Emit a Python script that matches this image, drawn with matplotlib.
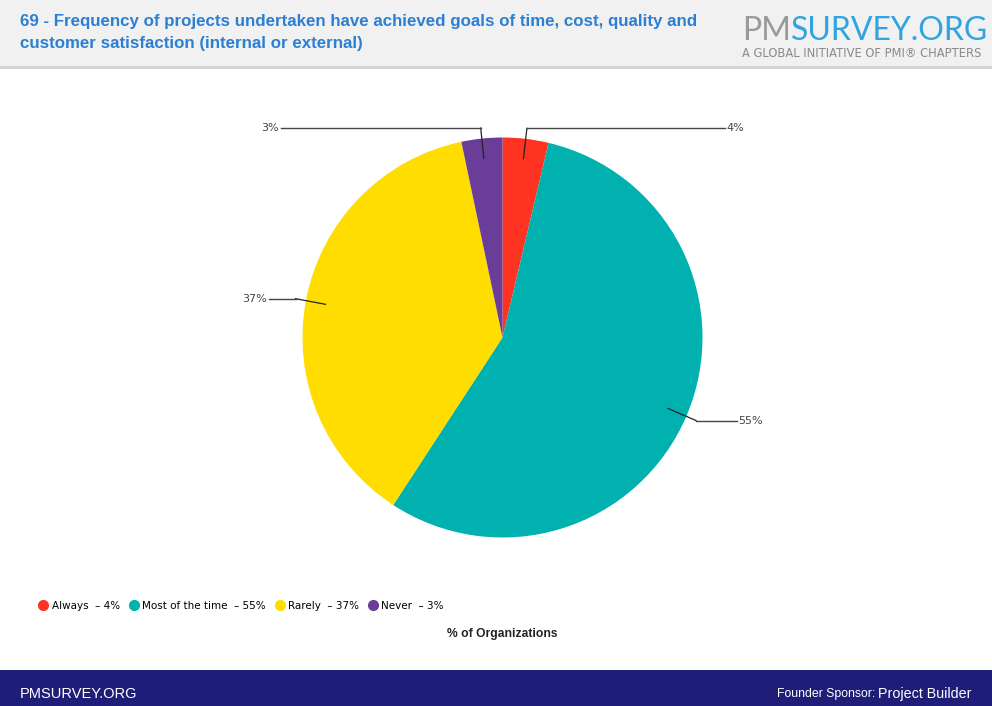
import numpy as np
import matplotlib.pyplot as plt
from matplotlib.patches import Rectangle
from matplotlib.lines import Line2D

categories = ['Always', 'Most of the time', 'Rarely', 'Never']
values = [3.7, 55.5, 37.5, 3.3]
labels = ['4%', '55%', '37%', '3%']
colors = ['#FF3322', '#00B1B0', '#FFDD00', '#6A3D99']

W, H = 992, 706
fig = plt.figure(figsize=(W / 100, H / 100), dpi=100)
fig.patch.set_facecolor('white')

# header band and footer band
fig.add_artist(Rectangle((0, 1 - 66 / H), 1, 66 / H, transform=fig.transFigure,
                         facecolor='#F1F1F1', edgecolor='none', zorder=0))
fig.add_artist(Rectangle((0, 1 - 69 / H), 1, 3 / H, transform=fig.transFigure,
                         facecolor='#D4D4D4', edgecolor='none', zorder=0))
fig.add_artist(Rectangle((0, 0), 1, 36 / H, transform=fig.transFigure,
                         facecolor='#1E1E78', edgecolor='none', zorder=0))

title = ('69 - Frequency of projects undertaken have achieved goals of time, cost, quality and\n'
         'customer satisfaction (internal or external)')
fig.text(20 / W, 1 - 14 / H, title, ha='left', va='top', fontsize=12.2,
         fontweight='bold', color='#2B7FD4', family='Liberation Sans',
         linespacing=1.6)

# logo text
pm = fig.text(742 / W, 1 - 40 / H, 'PM', ha='left', va='baseline', fontsize=23,
              color='#9A9A9A', family='Lato')
fig.canvas.draw()
pm_w = pm.get_window_extent().width
fig.text(742 / W + pm_w / W, 1 - 40 / H, 'SURVEY.ORG', ha='left', va='baseline',
         fontsize=23, color='#2FA4E0', family='Lato')
fig.text(742 / W, 1 - 57 / H, 'A GLOBAL INITIATIVE OF PMI\u00ae CHAPTERS', ha='left',
         va='baseline', fontsize=8.3, color='#8A8A8A', family='DejaVu Sans')

# pie
ax = fig.add_axes([302.5 / W, (H - 537.5) / H, 400 / W, 400 / H])
wedges, _ = ax.pie(values, colors=colors, startangle=90, counterclock=False,
                   radius=1, wedgeprops=dict(linewidth=0))
ax.set_xlim(-1, 1)
ax.set_ylim(-1, 1)
ax.set_aspect('equal')
ax.axis('off')

for w, lab in zip(wedges, labels):
    mid = np.deg2rad((w.theta1 + w.theta2) / 2)
    x0, y0 = 0.9 * np.cos(mid), 0.9 * np.sin(mid)
    x1, y1 = 1.053 * np.cos(mid), 1.053 * np.sin(mid)
    side = 1 if x1 > 0 else -1
    x2 = side * (1.17 if abs(y1) < 0.6 else 1.11)
    ax.plot([x0, x1], [y0, y1], color='#222222', lw=0.9, clip_on=False)
    ax.plot([x1, x2], [y1, y1], color='#444444', lw=1.0, clip_on=False)
    ax.text(x2 + side * 0.01, y1, lab, ha='left' if side > 0 else 'right',
            va='center', fontsize=8, color='#444444', family='DejaVu Sans')

# legend
handles = [Line2D([], [], marker='o', linestyle='none', markersize=7,
                  markerfacecolor=c, markeredgecolor=c) for c in colors]
leg_labels = [f'{c}  \u2013 {l}' for c, l in zip(categories, labels)]
fig.legend(handles, leg_labels, loc='center left', bbox_to_anchor=(38 / W, 1 - 606 / H),
           ncol=4, frameon=False, handletextpad=0.3,
           columnspacing=0.85, handlelength=1.0, borderpad=0, borderaxespad=0,
           prop={'family': 'DejaVu Sans', 'size': 7.5})

fig.text(502 / W, 1 - 634 / H, '% of Organizations', ha='center', va='center',
         fontsize=8.7, fontweight='bold', color='#222222', family='Liberation Sans')

# footer text
fig.text(20 / W, 1 - 694 / H, 'PMSURVEY.ORG', ha='left', va='center', fontsize=10.5,
         color='white', family='Liberation Sans')
fig.text(972 / W, 1 - 694 / H, 'Project Builder', ha='right', va='center', fontsize=10.3,
         color='white', family='Liberation Sans')
fig.text(875 / W, 1 - 694 / H, 'Founder Sponsor:', ha='right', va='center', fontsize=8.8,
         color='white', family='Liberation Sans')

fig.savefig('out.png', dpi=100)
